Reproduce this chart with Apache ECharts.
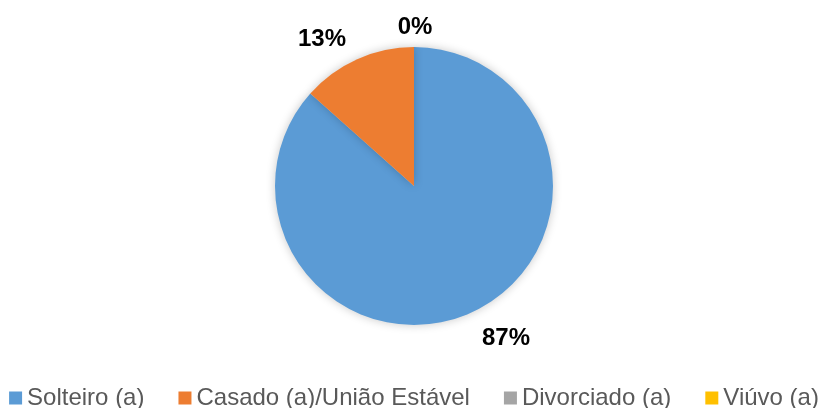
<!DOCTYPE html>
<html>
<head>
<meta charset="utf-8">
<title>Estado civil</title>
<script src="https://cdn.jsdelivr.net/npm/echarts@6/dist/echarts.min.js"></script>
<style>
  html, body { margin: 0; padding: 0; background: #ffffff; }
  #chart { width: 828px; height: 408px; }
</style>
</head>
<body>
<div id="chart"></div>
<script>
// categorias e valores (percentual)
var categories = ['Solteiro (a)', 'Casado (a)/União Estável', 'Divorciado (a)', 'Viúvo (a)']
var values = [86.6, 13.4, 0, 0]
var colors = ['#5b9bd5', '#ed7d31', '#a5a5a5', '#ffc000']

var font = 'Liberation Sans, Arial, sans-serif'

var chart = echarts.init(document.getElementById('chart'))

var pieData = categories.map(function (name, i) {
  return {
    name: name,
    value: values[i],
    itemStyle: { color: colors[i] }
  }
})

var option = {
  animation: false,
  legend: {
    data: categories,
    left: 'center',
    top: 386,
    padding: 0,
    itemGap: 34,
    itemWidth: 13,
    itemHeight: 13,
    icon: 'rect',
    textStyle: {
      color: '#595959',
      fontSize: 24,
      fontFamily: font
    }
  },
  series: [
    {
      type: 'pie',
      center: [414, 186],
      radius: 139,
      startAngle: 90,
      clockwise: true,
      percentPrecision: 0,
      avoidLabelOverlap: false,
      itemStyle: {
        borderWidth: 0,
        shadowBlur: 10,
        shadowColor: 'rgba(0,0,0,0.22)'
      },
      label: {
        show: true,
        position: 'outside',
        formatter: '{d}%',
        color: '#000000',
        fontSize: 24,
        fontWeight: 'bold',
        fontFamily: font,
        distanceToLabelLine: 1
      },
      labelLine: {
        show: false,
        length: 25,
        length2: 0
      },
      labelLayout: function (params) {
        // rótulos de 0% ficam centrados no topo
        if (values[params.dataIndex] === 0) {
          return { align: 'center', dy: 5, hideOverlap: true }
        }
        return { dy: 3, hideOverlap: true }
      },
      emphasis: { disabled: true },
      data: pieData
    }
  ]
}

chart.setOption(option)
</script>
</body>
</html>
